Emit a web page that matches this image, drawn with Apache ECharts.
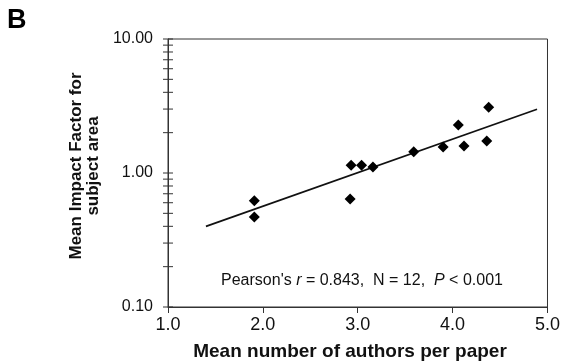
<!DOCTYPE html>
<html>
<head>
<meta charset="utf-8">
<script src="https://cdn.jsdelivr.net/npm/echarts@6/dist/echarts.min.js"></script>
<style>
  html, body { margin: 0; padding: 0; background: #fff; }
  #chart { width: 563px; height: 361px; }
</style>
</head>
<body>
<div id="chart"></div>
<script>
// ---- data ----
const authorsPerPaper = [1.91, 1.91, 2.92, 2.93, 3.04, 3.16, 3.59, 3.90, 4.12, 4.06, 4.36, 4.38];
const impactFactor    = [0.62, 0.47, 0.64, 1.14, 1.14, 1.11, 1.44, 1.56, 1.59, 2.28, 1.73, 3.09];
const trendX = [1.40, 4.89];
const trendY = [0.40, 2.99];
const xMin = 1, xMax = 5, xInterval = 1;
const yMin = 0.1, yMax = 10;
const yTickValues = [0.1, 0.2, 0.3, 0.4, 0.5, 0.6, 0.7, 0.8, 0.9, 1, 2, 3, 4, 5, 6, 7, 8, 9, 10];
const statsText = ["Pearson's ", "r", " = 0.843,  N = 12,  ", "P", " < 0.001"];
const xTitle = 'Mean number of authors per paper';
const yTitle = ['Mean Impact Factor for', 'subject area'];
const panelLabel = 'B';

const FONT = '"Liberation Sans", Arial, Helvetica, sans-serif';
const INK = '#111';
const AXIS = '#333';

const chart = echarts.init(document.getElementById('chart'), null, { renderer: 'canvas' });

const points = authorsPerPaper.map((x, i) => [x, impactFactor[i]]);
const trend = trendX.map((x, i) => [x, trendY[i]]);
const ticks = yTickValues.map(v => [xMin, v]);

chart.setOption({
  animation: false,
  backgroundColor: '#fff',
  grid: {
    left: 168, right: 15, top: 39, bottom: 54,
    show: true, borderColor: AXIS, borderWidth: 1, backgroundColor: 'transparent'
  },
  xAxis: {
    type: 'value', min: xMin, max: xMax, interval: xInterval,
    axisLine: { show: true, lineStyle: { color: AXIS, width: 1 } },
    axisTick: { show: true, length: 6, lineStyle: { color: AXIS } },
    splitLine: { show: false },
    axisLabel: {
      color: INK, fontFamily: FONT, fontSize: 18, margin: 9,
      formatter: v => v.toFixed(1)
    }
  },
  yAxis: {
    type: 'log', logBase: 10, min: yMin, max: yMax,
    axisLine: { show: true, lineStyle: { color: AXIS, width: 1 } },
    axisTick: { show: false },
    splitLine: { show: false },
    axisLabel: {
      color: INK, fontFamily: FONT, fontSize: 16, margin: 15,
      formatter: v => Number(v).toFixed(2)
    }
  },
  series: [
    {
      type: 'custom',
      data: ticks,
      silent: true,
      clip: false,
      renderItem: function (params, api) {
        const p = api.coord([api.value(0), api.value(1)]);
        return {
          type: 'line',
          shape: { x1: p[0] - 5, y1: p[1], x2: p[0] + 5, y2: p[1] },
          style: { stroke: AXIS, lineWidth: 1 }
        };
      },
      z: 5
    },
    {
      type: 'line',
      data: trend,
      symbol: 'none',
      lineStyle: { color: '#111', width: 1.7 },
      z: 3
    },
    {
      type: 'scatter',
      data: points,
      symbol: 'diamond',
      symbolSize: [11, 11],
      itemStyle: { color: '#000', opacity: 1 },
      z: 4
    }
  ],
  graphic: [
    {
      type: 'text', left: 7, top: 7,
      style: { text: panelLabel, fontFamily: FONT, fontWeight: 'bold', fontSize: 27, fill: '#000' }
    },
    {
      type: 'text', x: 350, y: 352,
      style: {
        text: xTitle, fontFamily: FONT, fontWeight: 'bold', fontSize: 19, fill: INK,
        align: 'center', verticalAlign: 'middle'
      }
    },
    {
      type: 'text', x: 85, y: 166, rotation: Math.PI / 2,
      style: {
        text: yTitle.join('\n'), fontFamily: FONT, fontWeight: 'bold', fontSize: 17, fill: INK,
        align: 'center', verticalAlign: 'middle', lineHeight: 17
      }
    },
    {
      type: 'text', x: 362, y: 281,
      style: {
        text: '{n|' + statsText[0] + '}{i|' + statsText[1] + '}{n|' + statsText[2] + '}{i|' + statsText[3] + '}{n|' + statsText[4] + '}',
        align: 'center', verticalAlign: 'middle',
        rich: {
          n: { fontFamily: FONT, fontSize: 16, fill: INK, color: INK },
          i: { fontFamily: FONT, fontSize: 16, fontStyle: 'italic', fill: INK, color: INK }
        }
      }
    }
  ]
});
</script>
</body>
</html>
